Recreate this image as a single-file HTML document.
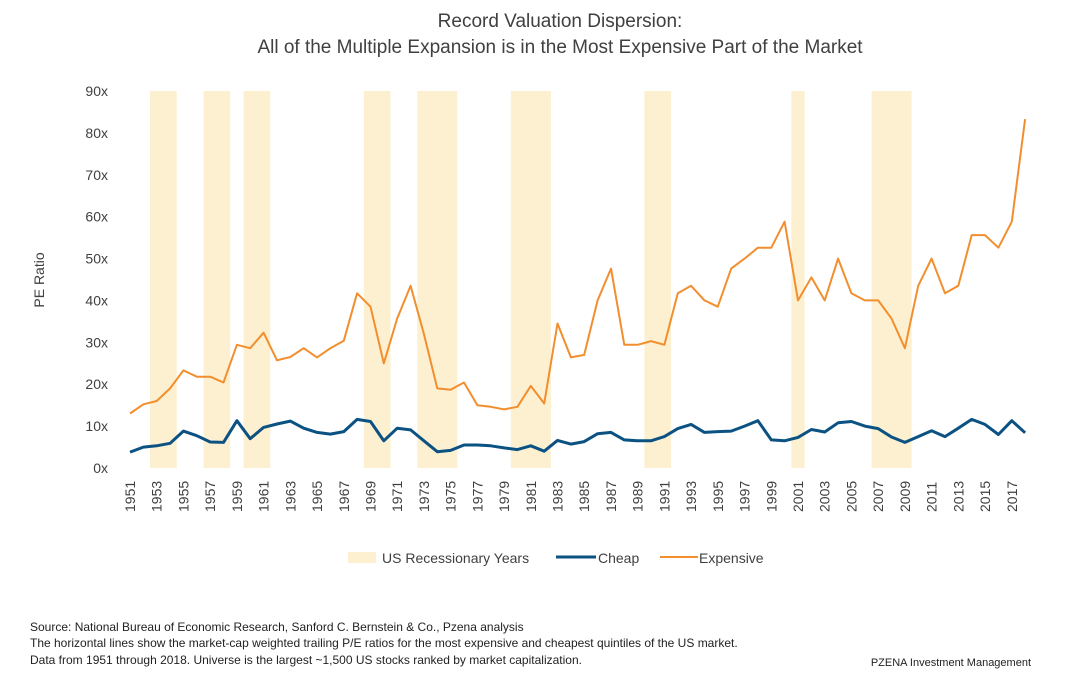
<!DOCTYPE html>
<html><head><meta charset="utf-8"><style>
body{margin:0;background:#fff;font-family:"Liberation Sans",sans-serif;}
</style></head><body>
<svg id="chart" width="1070" height="679" xmlns="http://www.w3.org/2000/svg" font-family="Liberation Sans, sans-serif">
<text x="560" y="27" text-anchor="middle" font-size="19" fill="#404040">Record Valuation Dispersion:</text>
<text x="560" y="53" text-anchor="middle" font-size="19" fill="#404040">All of the Multiple Expansion is in the Most Expensive Part of the Market</text>
<text transform="translate(44,280) rotate(-90)" text-anchor="middle" font-size="14" fill="#404040">PE Ratio</text>
<g id="bands"></g><g id="yaxis"></g><g id="xaxis"></g><g id="lines"></g>
<g>
<rect x="348" y="552" width="28" height="11" fill="#fcf0d0"/>
<text x="382" y="563" font-size="14" fill="#404040">US Recessionary Years</text>
<line x1="556" y1="557" x2="596" y2="557" stroke="#0b5283" stroke-width="3"/>
<text x="598" y="563" font-size="14" fill="#404040">Cheap</text>
<line x1="660" y1="557" x2="698" y2="557" stroke="#f28e2e" stroke-width="2"/>
<text x="699" y="563" font-size="14" fill="#404040">Expensive</text>
</g>
<text font-size="12" fill="#222">
<tspan x="30" y="631">Source: National Bureau of Economic Research, Sanford C. Bernstein &amp; Co., Pzena analysis</tspan>
<tspan x="30" y="647">The horizontal lines show the market-cap weighted trailing P/E ratios for the most expensive and cheapest quintiles of the US market.</tspan>
<tspan x="30" y="664">Data from 1951 through 2018. Universe is the largest ~1,500 US stocks ranked by market capitalization.</tspan>
</text>
<text x="1031" y="666" text-anchor="end" font-size="11" fill="#222">PZENA Investment Management</text>
</svg>
<script>
const years=[];for(let y=1951;y<=2018;y++)years.push(y);
const expensive=[13,15.2,16,19,23.3,21.8,21.8,20.4,29.4,28.6,32.3,25.7,26.5,28.6,26.4,28.6,30.4,41.7,38.5,25,35.7,43.5,32,19,18.7,20.4,15,14.6,14,14.6,19.6,15.4,34.5,26.4,27,40,47.6,29.4,29.4,30.3,29.4,41.7,43.5,40,38.5,47.6,50,52.6,52.6,58.8,40,45.5,40,50,41.7,40,40,35.7,28.6,43.5,50,41.7,43.5,55.6,55.6,52.6,58.8,83.3];
const cheap=[3.8,5,5.3,5.9,8.8,7.7,6.2,6.1,11.3,7,9.7,10.5,11.2,9.5,8.5,8.1,8.7,11.6,11.1,6.5,9.5,9.1,6.5,3.9,4.2,5.5,5.5,5.3,4.8,4.4,5.3,4,6.6,5.7,6.3,8.2,8.5,6.7,6.5,6.5,7.5,9.4,10.4,8.5,8.7,8.8,10,11.3,6.7,6.5,7.3,9.2,8.6,10.8,11.1,10,9.4,7.4,6.1,7.5,8.9,7.5,9.5,11.6,10.4,8,11.3,8.4];
const recStart=[1953,1957,1960,1969,1973,1980,1990,2001,2007];
const recEnd=[1954,1958,1961,1970,1975,1982,1991,2001,2009];
const yTicks=[0,10,20,30,40,50,60,70,80,90];
const NS="http://www.w3.org/2000/svg";
const X=y=>130+(y-1951)*13.36, Y=v=>468-v*(377/90);
function mk(t,a,p){const e=document.createElementNS(NS,t);for(const k in a)e.setAttribute(k,a[k]);document.getElementById(p).appendChild(e);return e;}
recStart.forEach((s,i)=>{const r=mk('rect',{x:X(s-0.5),y:Y(90),width:X(recEnd[i]+0.5)-X(s-0.5),height:Y(0)-Y(90),fill:'#fcf0d0'},'bands');

});
yTicks.forEach(v=>{const t=mk('text',{x:108,y:Y(v)+5,'text-anchor':'end','font-size':14,fill:'#404040'},'yaxis');t.textContent=v+'x';

});
years.forEach(y=>{if((y-1951)%2)return;const t=mk('text',{transform:`translate(${X(y)+5},512) rotate(-90)`,'font-size':14,fill:'#404040'},'xaxis');t.textContent=y;

});
const pts=a=>a.map((v,i)=>X(years[i]).toFixed(1)+','+Y(v).toFixed(1)).join(' ');
const e=mk('polyline',{points:pts(expensive),fill:'none',stroke:'#f28e2e','stroke-width':2,'stroke-linejoin':'round'},'lines');


const c=mk('polyline',{points:pts(cheap),fill:'none',stroke:'#0b5283','stroke-width':3,'stroke-linejoin':'round'},'lines');


</script>
</body></html>
